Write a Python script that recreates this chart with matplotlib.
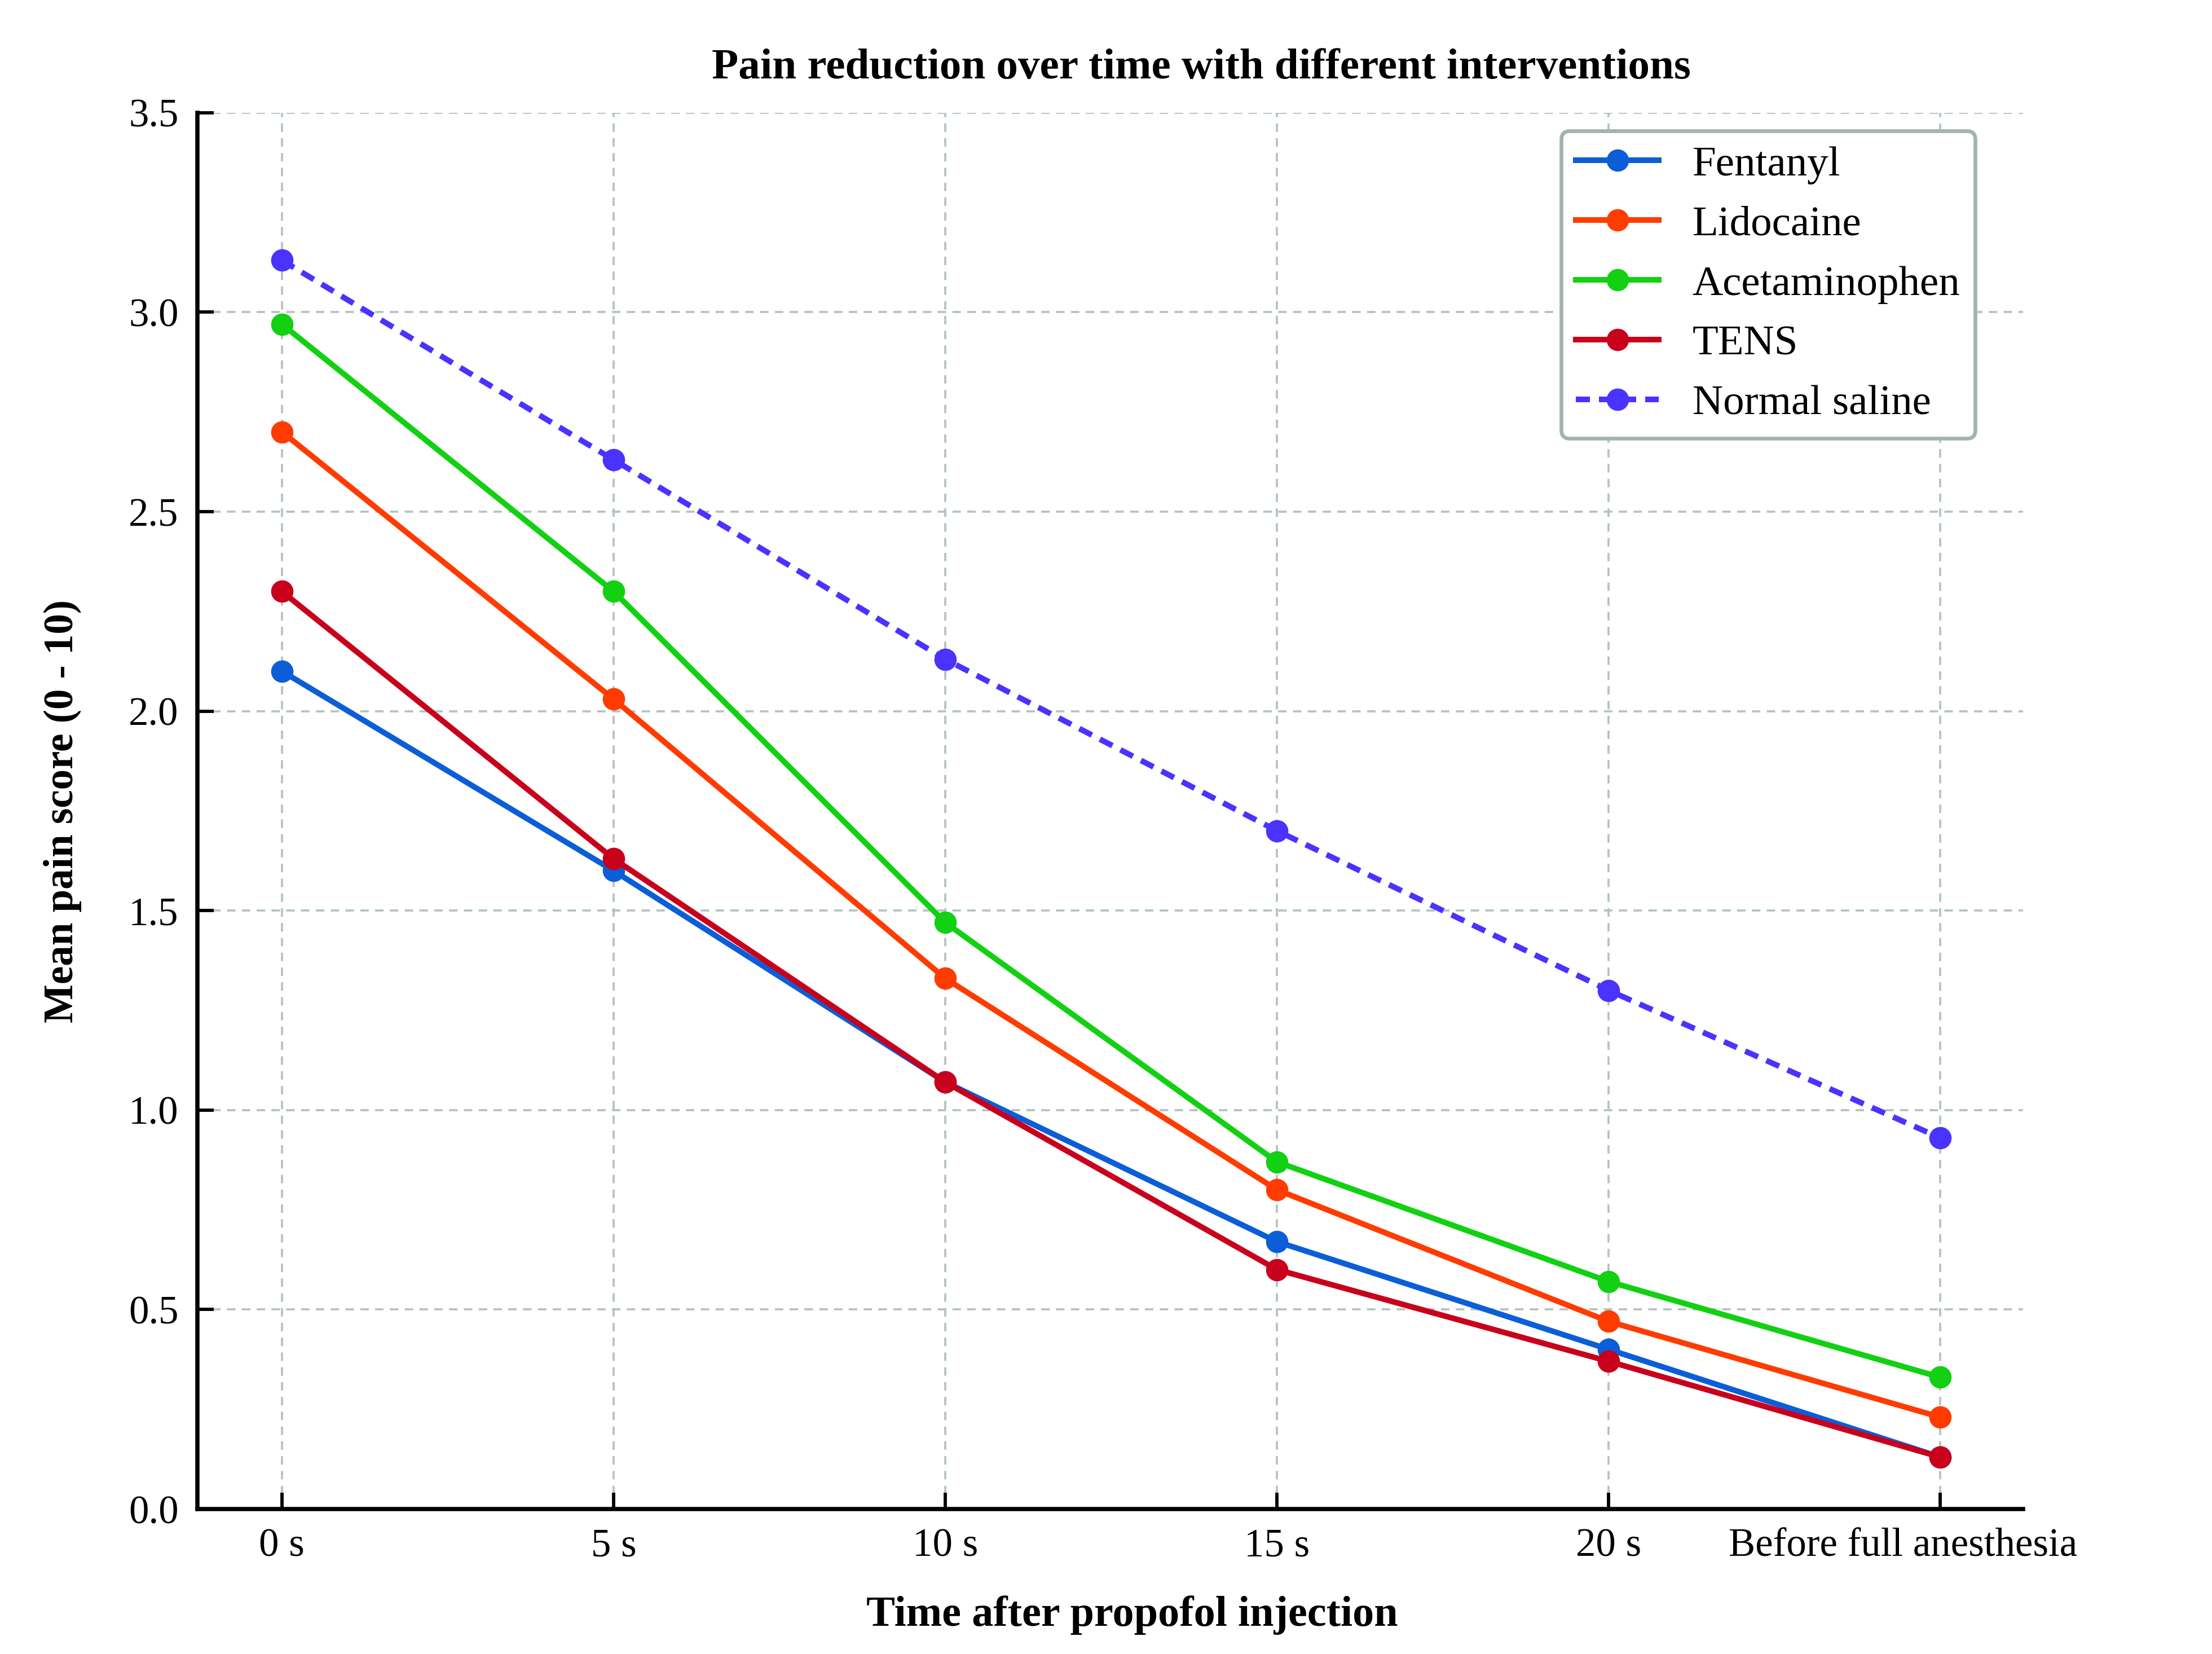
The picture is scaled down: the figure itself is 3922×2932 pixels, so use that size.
import matplotlib
matplotlib.use("Agg")
import matplotlib.pyplot as plt
import matplotlib.transforms as mtransforms

# data
time_labels = ["0 s", "5 s", "10 s", "15 s", "20 s", "Before full anesthesia"]
fentanyl = [2.10, 1.60, 1.07, 0.67, 0.40, 0.13]
lidocaine = [2.70, 2.03, 1.33, 0.80, 0.47, 0.23]
acetaminophen = [2.97, 2.30, 1.47, 0.87, 0.57, 0.33]
tens = [2.30, 1.63, 1.07, 0.60, 0.37, 0.13]
saline = [3.13, 2.63, 2.13, 1.70, 1.30, 0.93]

plt.rcParams['font.family'] = ['Liberation Serif', 'DejaVu Serif']

fig = plt.figure(figsize=(13.074, 9.774), dpi=300)
ax = fig.add_axes([0.0892, 0.0877, 0.8254, 0.8441])

x = list(range(len(time_labels)))
series = [
  ("Fentanyl", fentanyl, "#0b5ed7", "-"),
  ("Lidocaine", lidocaine, "#ff3b00", "-"),
  ("Acetaminophen", acetaminophen, "#12d012", "-"),
  ("TENS", tens, "#c8001c", "-"),
  ("Normal saline", saline, "#4a32ff", (0, (2.5, 1.6))),
]
for name, vals, col, ls in series:
  ax.plot(x, vals, linestyle=ls, color=col, linewidth=2.4, marker='o',
          markersize=8.5, label=name)

ax.set_xlim(-0.255, 5.25)
ax.set_ylim(0, 3.5)
ax.set_xticks(x)
ax.set_xticklabels(time_labels)
ax.set_yticks([0, 0.5, 1.0, 1.5, 2.0, 2.5, 3.0, 3.5])
ax.set_yticklabels(["0.0", "0.5", "1.0", "1.5", "2.0", "2.5", "3.0", "3.5"])

ax.grid(True, linestyle=(0, (4, 3)), color='#b3c4c0', linewidth=0.9)
ax.set_axisbelow(True)

for side in ['top', 'right']:
  ax.spines[side].set_visible(False)
for side in ['left', 'bottom']:
  ax.spines[side].set_linewidth(1.8)
  ax.spines[side].set_color('black')
ax.tick_params(direction='in', length=7, width=1.4, labelsize=17, pad=8)

# the last tick label sits a bit left of its tick in the original
last = ax.get_xticklabels()[-1]
last.set_transform(last.get_transform() +
                   mtransforms.ScaledTranslation(-0.22, 0, fig.dpi_scale_trans))

fig.text(0.543, 0.959, "Pain reduction over time with different interventions",
         fontsize=18.5, fontweight='bold', ha='center', va='center')
ax.set_xlabel("Time after propofol injection", fontsize=18.3,
              fontweight='bold')
ax.xaxis.set_label_coords(0.512, -0.062)
ax.xaxis.label.set_va('top')
ax.set_ylabel("Mean pain score (0 - 10)", fontsize=17.5,
              fontweight='bold', labelpad=20)

leg = ax.legend(loc='upper left', bbox_to_anchor=(0.747, 0.987),
                borderaxespad=0, fontsize=18,
                frameon=True, fancybox=True, handlelength=1.95,
                handletextpad=0.8, labelspacing=0.5, borderpad=0.35)
leg.get_frame().set_edgecolor('#a0b4b0')
leg.get_frame().set_linewidth(1.6)
leg.get_frame().set_alpha(1.0)

fig.savefig("out.png", dpi=300)
